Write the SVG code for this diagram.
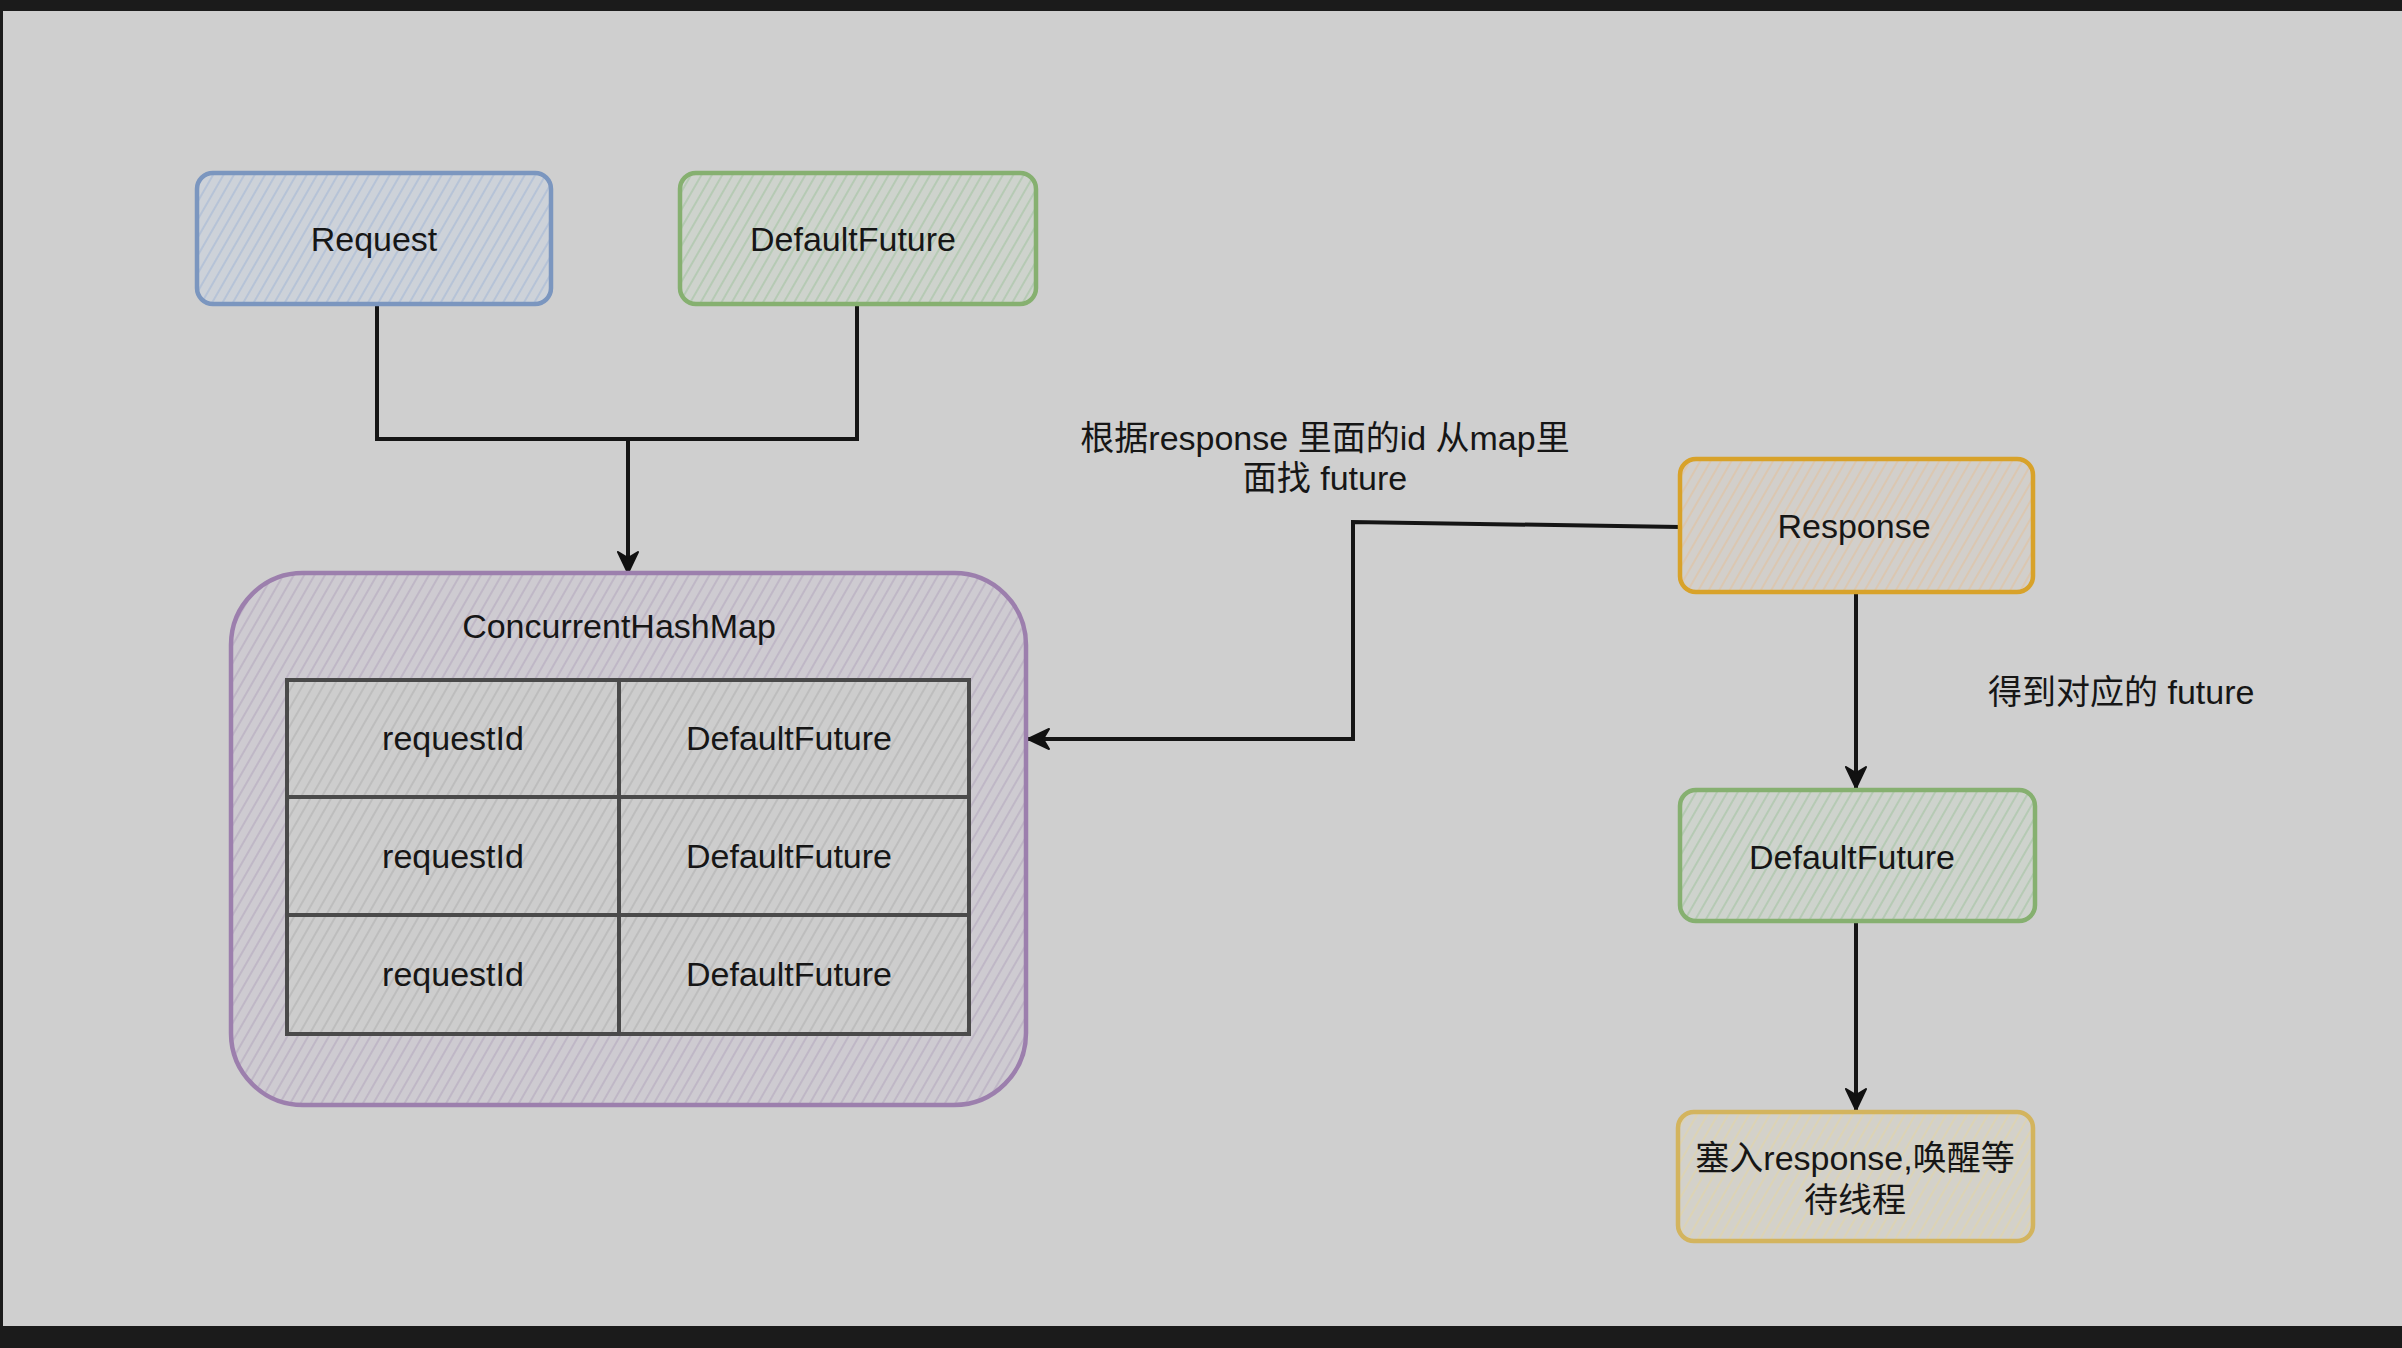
<svg xmlns="http://www.w3.org/2000/svg" width="2402" height="1348" viewBox="0 0 2402 1348">
<style>
.t{font-family:"Liberation Sans","Noto Sans CJK SC",sans-serif;font-size:34px;fill:#161616;text-anchor:middle}
.tl{font-family:"Liberation Sans","Noto Sans CJK SC",sans-serif;font-size:34px;fill:#161616}
.conn{fill:none;stroke:#151515;stroke-width:4;stroke-linejoin:miter}
.box{stroke-width:4.5}
.grid{fill:none;stroke:#4a4a4a;stroke-width:4}
</style>
<defs>
<pattern id="hBlue" width="9" height="9" patternUnits="userSpaceOnUse" patternTransform="rotate(30)"><rect width="9" height="9" fill="#cdd2d9"/><line x1="2" y1="0" x2="2" y2="9" stroke="#b4c2d7" stroke-width="1.8"/></pattern>
<pattern id="hGreen" width="9" height="9" patternUnits="userSpaceOnUse" patternTransform="rotate(30)"><rect width="9" height="9" fill="#ced3cd"/><line x1="2" y1="0" x2="2" y2="9" stroke="#b3c9b1" stroke-width="1.8"/></pattern>
<pattern id="hOrange" width="9" height="9" patternUnits="userSpaceOnUse" patternTransform="rotate(30)"><rect width="9" height="9" fill="#d2cfcb"/><line x1="2" y1="0" x2="2" y2="9" stroke="#dcc6ae" stroke-width="1.8"/></pattern>
<pattern id="hYellow" width="9" height="9" patternUnits="userSpaceOnUse" patternTransform="rotate(30)"><rect width="9" height="9" fill="#d3d1ca"/><line x1="2" y1="0" x2="2" y2="9" stroke="#ddd4b3" stroke-width="1.8"/></pattern>
<pattern id="hPurple" width="9" height="9" patternUnits="userSpaceOnUse" patternTransform="rotate(30)"><rect width="9" height="9" fill="#cecbd1"/><line x1="2" y1="0" x2="2" y2="9" stroke="#beb5c5" stroke-width="1.8"/></pattern>
<pattern id="hGray" width="9" height="9" patternUnits="userSpaceOnUse" patternTransform="rotate(30)"><rect width="9" height="9" fill="#cdcdcd"/><line x1="2" y1="0" x2="2" y2="9" stroke="#bcbcbc" stroke-width="1.8"/></pattern>
<marker id="arr" markerUnits="userSpaceOnUse" markerWidth="24" markerHeight="24" refX="22" refY="11" orient="auto">
<path d="M1,1 L22,11 L1,21 L7,11 Z" fill="#111" stroke="#111" stroke-width="2" stroke-linejoin="round"/>
</marker>
</defs>
<rect x="0" y="0" width="2402" height="1348" fill="#cfcfcf"/>
<rect x="0" y="0" width="2402" height="11" fill="#1b1b1b"/>
<rect x="0" y="0" width="3" height="1348" fill="#1b1b1b"/>
<rect x="0" y="1326" width="2402" height="22" fill="#1b1b1b"/>

<g id="connectors">
<path class="conn" d="M377,306 V439 H628 V573" marker-end="url(#arr)"/>
<path class="conn" d="M857,306 V439 H628"/>
<path class="conn" d="M1680,527 L1353,522 V739 H1028" marker-end="url(#arr)"/>
<path class="conn" d="M1856,593 V788" marker-end="url(#arr)"/>
<path class="conn" d="M1856,922 V1110" marker-end="url(#arr)"/>
</g>

<g id="request">
<rect class="box" x="197" y="173" width="354" height="131" rx="16" fill="url(#hBlue)" stroke="#7b96bf"/>
<text class="t" x="374" y="251">Request</text>
</g>

<g id="defaultFutureTop">
<rect class="box" x="680" y="173" width="356" height="131" rx="16" fill="url(#hGreen)" stroke="#86b070"/>
<text class="t" x="853" y="251">DefaultFuture</text>
</g>

<g id="concurrentHashMap">
<rect class="box" x="231" y="573" width="795" height="532" rx="72" fill="url(#hPurple)" stroke="#9c7fad"/>
<text class="t" x="619" y="638">ConcurrentHashMap</text>
<rect x="287" y="680" width="682" height="354" fill="url(#hGray)"/>
<rect class="grid" x="287" y="680" width="682" height="354"/>
<line class="grid" x1="287" y1="797" x2="969" y2="797"/>
<line class="grid" x1="287" y1="915" x2="969" y2="915"/>
<line class="grid" x1="619" y1="680" x2="619" y2="1034"/>
<text class="t" x="453" y="750">requestId</text>
<text class="t" x="789" y="750">DefaultFuture</text>
<text class="t" x="453" y="868">requestId</text>
<text class="t" x="789" y="868">DefaultFuture</text>
<text class="t" x="453" y="986">requestId</text>
<text class="t" x="789" y="986">DefaultFuture</text>
</g>

<g id="lookupLabel">
<text class="t" x="1325" y="450">根据response 里面的id 从map里</text>
<text class="t" x="1325" y="490">面找 future</text>
</g>

<g id="response">
<rect class="box" x="1680" y="459" width="353" height="133" rx="16" fill="url(#hOrange)" stroke="#d8a22a"/>
<text class="t" x="1854" y="538">Response</text>
</g>

<g id="getFutureLabel">
<text class="tl" x="1988" y="704">得到对应的 future</text>
</g>

<g id="defaultFutureRight">
<rect class="box" x="1680" y="790" width="355" height="131" rx="16" fill="url(#hGreen)" stroke="#86b070"/>
<text class="t" x="1852" y="869">DefaultFuture</text>
</g>

<g id="wakeUp">
<rect class="box" x="1678" y="1112" width="355" height="129" rx="16" fill="url(#hYellow)" stroke="#d3b45e"/>
<text class="t" x="1855" y="1170">塞入response,唤醒等</text>
<text class="t" x="1855" y="1212">待线程</text>
</g>
</svg>
